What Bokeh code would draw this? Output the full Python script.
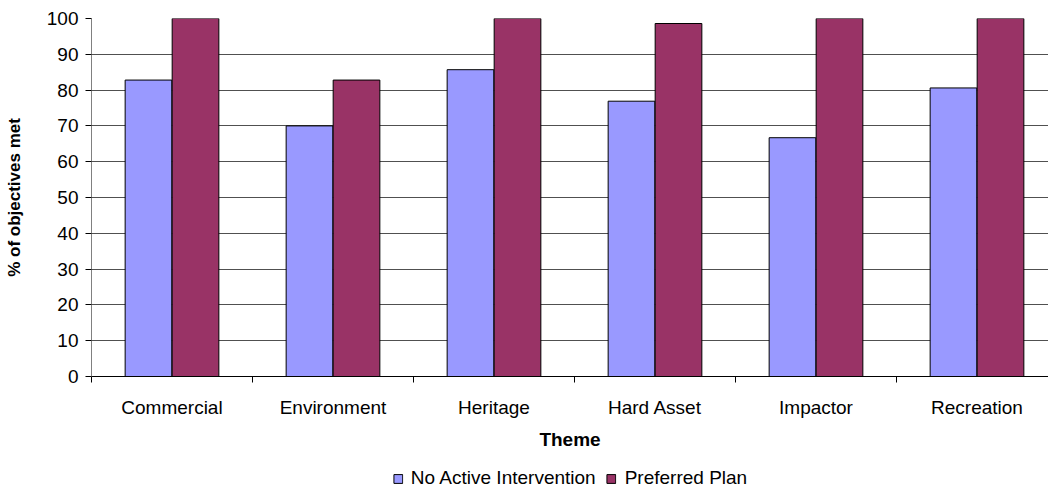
from bokeh.plotting import figure
from bokeh.layouts import column
from bokeh.models import ColumnDataSource, FixedTicker, Range1d, Legend, LegendItem
from bokeh.embed import file_html
from bokeh.resources import INLINE

categories = ["Commercial", "Environment", "Heritage", "Hard Asset", "Impactor", "Recreation"]
no_active_intervention = [82.8, 70.0, 85.7, 76.9, 66.7, 80.6]
preferred_plan = [100.0, 82.8, 100.0, 98.6, 100.0, 100.0]
y_ticks = [0, 10, 20, 30, 40, 50, 60, 70, 80, 90, 100]

FONT = "Liberation Sans"
NAI_COLOR = "#9999FF"
PP_COLOR = "#993366"
idx = list(range(len(categories)))
src = ColumnDataSource(dict(
    x1=[i - 0.146 for i in idx], x2=[i + 0.146 for i in idx],
    nai=no_active_intervention, pp=preferred_plan))

xr = Range1d(-0.5, -0.5 + 957 / 161)
p = figure(frame_width=957, frame_height=358, output_backend="svg", toolbar_location=None,
           x_range=xr, y_range=Range1d(0, 100),
           min_border_left=91, min_border_top=18, min_border_right=0, min_border_bottom=0)
p.outline_line_color = None

r1 = p.vbar(x="x1", top="nai", width=0.29, source=src, fill_color=NAI_COLOR, line_color="#000000", line_width=1)
r2 = p.vbar(x="x2", top="pp", width=0.29, source=src, fill_color=PP_COLOR, line_color="#000000", line_width=1)

# x axis
p.xaxis.ticker = FixedTicker(ticks=idx, minor_ticks=[i - 0.5 for i in range(len(categories) + 1)])
p.xaxis.major_label_overrides = {i: c for i, c in zip(idx, categories)}
p.xaxis.major_tick_line_color = None
p.xaxis.major_tick_out = 0
p.xaxis.major_tick_in = 0
p.xaxis.minor_tick_line_color = "#000000"
p.xaxis.minor_tick_out = 6
p.xaxis.minor_tick_in = 0
p.xaxis.axis_line_color = "#000000"
p.xaxis.major_label_standoff = 14
p.xaxis.major_label_text_font = FONT
p.xaxis.major_label_text_font_size = "19px"
p.xaxis.major_label_text_color = "#000000"
p.xaxis.axis_label = "Theme"
p.xaxis.axis_label_text_font = FONT
p.xaxis.axis_label_text_font_size = "19px"
p.xaxis.axis_label_text_font_style = "bold"
p.xaxis.axis_label_text_color = "#000000"
p.xaxis.axis_label_standoff = 8
p.xgrid.grid_line_color = None

# y axis
p.yaxis.ticker = FixedTicker(ticks=y_ticks)
p.yaxis.minor_tick_line_color = None
p.yaxis.major_tick_out = 6
p.yaxis.major_tick_in = 0
p.yaxis.major_tick_line_color = "#000000"
p.yaxis.axis_line_color = "#808080"
p.yaxis.major_label_standoff = 7
p.yaxis.major_label_text_font = FONT
p.yaxis.major_label_text_font_size = "19px"
p.yaxis.major_label_text_color = "#000000"
p.yaxis.axis_label = "% of objectives met"
p.yaxis.axis_label_text_font = FONT
p.yaxis.axis_label_text_font_size = "17px"
p.yaxis.axis_label_text_font_style = "bold"
p.yaxis.axis_label_text_color = "#000000"
p.yaxis.axis_label_standoff = 20
p.ygrid.grid_line_color = "#505050"
p.ygrid.grid_line_width = 1

# legend strip below the chart (same series, legend only)
q = figure(frame_width=957, frame_height=37, output_backend="svg", toolbar_location=None,
           x_range=xr, y_range=Range1d(1000, 1001),
           x_axis_location=None, y_axis_location=None,
           min_border_left=91, min_border_top=0, min_border_right=0, min_border_bottom=0)
q.outline_line_color = None
q.xgrid.grid_line_color = None
q.ygrid.grid_line_color = None
l1 = q.vbar(x="x1", top="nai", width=0.29, source=src, fill_color=NAI_COLOR, line_color="#000000", line_width=1)
l2 = q.vbar(x="x2", top="pp", width=0.29, source=src, fill_color=PP_COLOR, line_color="#000000", line_width=1)

legend = Legend(items=[LegendItem(label="No Active Intervention", renderers=[l1]),
                       LegendItem(label="Preferred Plan", renderers=[l2])],
                orientation="horizontal", location="bottom_center")
legend.label_text_font = FONT
legend.label_text_font_size = "19px"
legend.label_text_color = "#000000"
legend.glyph_width = 11
legend.glyph_height = 11
legend.label_standoff = 8
legend.spacing = 10
legend.padding = 0
legend.margin = 0
legend.border_line_color = None
legend.background_fill_color = None
legend.background_fill_alpha = 0
q.add_layout(legend, "center")

open("out.html", "w").write(file_html(column(p, q, spacing=0), INLINE))
